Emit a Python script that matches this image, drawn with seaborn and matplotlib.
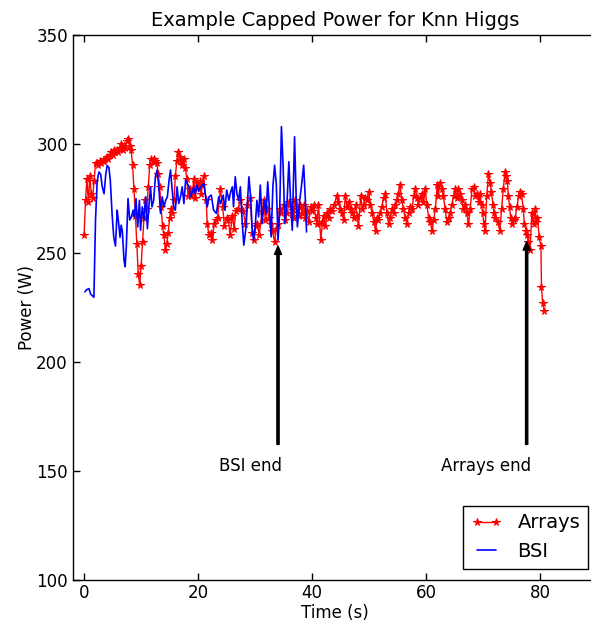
import numpy as np
import pandas as pd
import matplotlib
matplotlib.use("Agg")
import matplotlib.pyplot as plt
import seaborn as sns

# ---------------- data ----------------
arrays_t = [0.0, 0.25, 0.5, 0.75, 1.0, 1.25, 1.5, 1.75, 2.0, 2.25, 2.5, 2.75, 3.0, 3.25, 3.5, 3.75,
            4.0, 4.25, 4.5, 4.75, 5.0, 5.25, 5.5, 5.75, 6.0, 6.25, 6.5, 6.75, 7.0, 7.25, 7.5, 7.75,
            8.0, 8.25, 8.5, 8.75, 9.0, 9.25, 9.5, 9.75, 10.0, 10.25, 10.5, 10.75, 11.0, 11.25, 11.5, 11.75,
            12.0, 12.25, 12.5, 12.75, 13.0, 13.25, 13.5, 13.75, 14.0, 14.25, 14.5, 14.75, 15.0, 15.25, 15.5, 15.75,
            16.0, 16.25, 16.5, 16.75, 17.0, 17.25, 17.5, 17.75, 18.0, 18.25, 18.5, 18.75, 19.0, 19.25, 19.5, 19.75,
            20.0, 20.25, 20.5, 20.75,
            20.95, 21.4, 21.6, 21.9, 22.2, 22.5, 22.8, 23.1, 23.4, 23.9, 24.3, 24.6, 25.0, 25.3, 25.6, 26.0,
            26.3, 26.6, 27.0, 27.4, 27.9, 28.3, 28.6, 29.1, 29.5, 29.8, 30.1, 30.4, 30.7, 31.2, 31.5, 31.8,
            32.1, 32.4, 32.7, 33.0, 33.4, 33.7, 34.0, 34.3, 34.6, 35.0, 35.3, 35.6, 35.9, 36.2, 36.5, 36.8,
            37.0, 37.3, 37.6, 37.9, 38.2, 38.5, 38.8, 39.1, 39.4, 39.7, 40.0, 40.3, 40.6, 40.8, 41.1, 41.5,
            41.8, 42.0, 42.3, 42.6, 42.9, 43.2, 43.5, 43.9, 44.3, 44.6, 44.9, 45.2, 45.5, 45.8, 46.1, 46.4,
            46.8, 47.0, 47.3, 47.6, 47.9, 48.1, 48.5, 48.8, 49.0, 49.3, 49.6, 49.9, 50.2, 50.5, 50.8, 51.1,
            51.4, 51.6, 51.9, 52.2, 52.5, 52.8, 53.1, 53.4, 53.7, 54.0, 54.3, 54.6, 54.9, 55.1, 55.4, 55.7,
            56.0, 56.3, 56.6, 56.9, 57.2, 57.5, 57.8, 58.1, 58.4, 58.6, 58.9, 59.2, 59.5, 59.8, 60.1, 60.4,
            60.7, 61.0, 61.3, 61.6, 61.9, 62.1, 62.4, 62.7, 63.0, 63.3, 63.6, 63.9, 64.2, 64.5, 64.8, 65.1,
            65.3, 65.6, 65.9, 66.2, 66.5, 66.8, 67.1, 67.4, 67.7, 68.0, 68.3, 68.6, 68.9, 69.2, 69.4, 69.7,
            69.9, 70.1, 70.3, 70.6, 70.9, 71.2, 71.4, 71.7, 71.9, 72.1, 72.5, 72.9, 73.2, 73.5, 73.8, 74.0,
            74.2, 74.4, 74.6, 74.8, 75.0, 75.3, 75.6, 75.9, 76.2, 76.5, 76.7, 77.0, 77.2, 77.5, 77.7, 77.9,
            78.2, 78.5, 78.8, 79.1, 79.3, 79.5, 79.8, 80.1, 80.2, 80.4, 80.7]
arrays_w = [258, 274, 284, 273, 285, 277, 275, 283, 291, 291, 290, 292, 291, 292, 292, 293,
            294, 293, 295, 296, 295, 297, 296, 297, 296, 298, 300, 297, 299, 298, 301, 302,
            299, 297, 290, 279, 267, 254, 240, 235, 244, 255, 266, 274, 270, 280, 290, 293,
            292, 293, 292, 291, 286, 280, 271, 262, 258, 251, 254, 259, 266, 270, 268, 274,
            285, 292, 296, 294, 292, 290, 293, 289, 284, 276, 279, 276, 278, 284, 275, 282,
            280, 283, 277, 281,
            285, 274, 263, 258, 259, 256, 263, 265, 266, 279, 271, 262, 266, 265, 258, 267,
            261, 269, 270, 274, 269, 263, 272, 275, 259, 256, 262, 263, 258, 269, 274, 265,
            270, 266, 263, 260, 255, 261, 263, 270, 268, 272, 265, 268, 273, 271, 268, 266,
            274, 270, 267, 272, 268, 272, 266, 269, 264, 271, 269, 272, 266, 263, 272, 256,
            264, 267, 262, 268, 266, 270, 269, 272, 276, 273, 270, 268, 265, 276, 271, 273,
            270, 268, 266, 272, 267, 262, 276, 270, 272, 275, 274, 278, 272, 268, 264, 260,
            266, 265, 268, 271, 275, 277, 268, 263, 266, 270, 268, 272, 274, 277, 281, 274,
            270, 266, 263, 268, 271, 270, 276, 279, 275, 272, 275, 277, 273, 279, 272, 266,
            264, 260, 265, 270, 281, 276, 282, 279, 276, 270, 264, 266, 268, 272, 276, 279,
            275, 279, 277, 274, 270, 272, 268, 263, 270, 279, 280, 276, 277, 273, 277, 272,
            268, 263, 260, 276, 286, 282, 278, 272, 268, 266, 264, 260, 270, 279, 287, 285,
            283, 276, 271, 266, 263, 265, 266, 271, 276, 278, 277, 270, 263, 260, 258, 255,
            251, 268, 263, 270, 264, 266, 257, 253, 234, 227, 223]

bsi_t = [0.15, 0.44, 0.85, 1.14, 1.72, 2.0, 2.3, 2.6, 2.9, 3.2, 3.5, 3.8, 4.06, 4.35, 4.6, 4.9,
         5.2, 5.5, 5.8, 6.0, 6.3, 6.5, 6.7, 7.0, 7.2, 7.4, 7.7, 8.0, 8.3, 8.6, 8.8, 9.1,
         9.4, 9.7, 9.9, 10.2, 10.5, 10.8, 11.1, 11.4, 11.65, 11.9, 12.2, 12.5, 12.8, 13.1, 13.4, 13.7,
         14.0, 14.3, 14.6, 14.9, 15.15, 15.4, 15.7, 16.0, 16.3, 16.6, 16.9, 17.2, 17.5, 17.8, 18.1, 18.4,
         18.65, 19.0, 19.2, 19.5, 19.8, 20.1, 20.4, 21.0, 21.3, 21.6, 21.9, 22.3, 22.7, 23.2, 23.6, 23.9,
         24.4, 24.7, 25.0, 25.4, 25.7, 26.0, 26.2, 26.5, 26.8, 27.1, 27.4, 27.7, 28.0, 28.4, 28.9, 29.2,
         29.45, 29.7, 30.0, 30.3, 30.6, 30.9, 31.2, 31.6, 31.9, 32.2, 32.5, 32.8, 33.1, 33.4, 33.7, 34.0,
         34.3, 34.6, 34.9, 35.2, 35.6, 35.9, 36.2, 36.5, 36.9, 37.2, 37.4, 37.8, 38.1, 38.5, 38.8, 39.0]
bsi_w = [232, 233, 233.5, 231, 229.5, 265, 283, 287, 286, 280, 277, 286, 290, 289, 283, 268,
         257, 253, 269.5, 265, 257, 262.6, 260, 246.5, 243.5, 252.6, 274.8, 265, 266.4, 269.5, 266.4, 274.8,
         261.8, 274, 260.3, 271, 265, 275.6, 261, 272.5, 280, 271, 274, 284.8, 287.9, 280.2, 268, 275.6,
         271, 274, 275.6, 283.3, 287.9, 280.2, 271, 269.5, 280.2, 272.5, 275.6, 280.2, 272.5, 283.3, 281.7, 280.2,
         275.6, 278, 280, 277, 281, 278, 280, 281.7, 275.6, 271, 275.6, 276.4, 269.5, 268, 275.6, 272.5,
         276.4, 269.5, 278.7, 274, 277.9, 280.2, 271, 284.8, 277.1, 274, 280.2, 264.9, 253.4, 261.8, 284.8, 275.6,
         261.8, 255.7, 261.8, 274, 266.4, 281, 263.3, 274, 268, 282.5, 269.5, 257.2, 280.2, 290.1, 281.7, 255.7,
         269.5, 307.8, 289.4, 263.3, 274, 291.7, 274, 260.3, 303.2, 274, 261.8, 274, 280.2, 290.1, 274, 259.5]

x_ticks = [0, 20, 40, 60, 80]
y_ticks = [100, 150, 200, 250, 300, 350]
annotations = [("BSI end", 34.0, 253, 23.6), ("Arrays end", 77.6, 255, 62.5)]

# ---------------- style ----------------
sns.set_style("ticks")
plt.rcParams.update({
    "font.family": ["DejaVu Sans"],
    "xtick.direction": "in", "ytick.direction": "in",
    "xtick.top": True, "ytick.right": False,
    "xtick.major.size": 5, "ytick.major.size": 5,
    "axes.linewidth": 1.0,
    "axes.edgecolor": "black",
    "xtick.color": "black", "ytick.color": "black",
    "text.color": "black", "axes.labelcolor": "black",
})

fig = plt.figure(figsize=(5.91, 6.24), dpi=100)
ax = fig.add_axes([0.1230, 0.0713, 0.8878, 0.8731])

df_a = pd.DataFrame({"t": arrays_t, "w": arrays_w})
df_b = pd.DataFrame({"t": bsi_t, "w": bsi_w})

sns.lineplot(data=df_a, x="t", y="w", sort=False, estimator=None, ax=ax,
             color="red", linewidth=1.0, marker="*", markersize=5.5,
             markeredgecolor="red", markerfacecolor="red", label="Arrays")
sns.lineplot(data=df_b, x="t", y="w", sort=False, estimator=None, ax=ax,
             color="blue", linewidth=1.2, label="BSI")

ax.set_xlim(-2, 90)
ax.set_ylim(100, 350)
ax.set_xticks(x_ticks)
ax.set_yticks(y_ticks)
ax.tick_params(labelsize=12, width=1, length=5, colors="black")
ax.tick_params(axis="y", right=False)
ax.spines["right"].set_visible(False)
ax.set_xlabel("Time (s)", fontsize=12, labelpad=1)
ax.set_ylabel("Power (W)", fontsize=12, labelpad=0)
ax.set_title("Example Capped Power for Knn Higgs", fontsize=14, pad=6)

for label, xa, ya, xt in annotations:
    ax.annotate("", xy=(xa, ya), xytext=(xa, 162),
                arrowprops=dict(facecolor="black", edgecolor="black",
                                width=1.6, headwidth=5, headlength=6, shrink=0))
    ax.text(xt, 150, label, fontsize=12, ha="left", va="baseline")

leg = ax.legend(loc="lower right", bbox_to_anchor=(588 / 591, (624 - 569) / 624),
                bbox_transform=fig.transFigure, borderaxespad=0, numpoints=2,
                fancybox=False, edgecolor="black", framealpha=1, fontsize=14,
                handlelength=1.6)
leg.get_frame().set_linewidth(1.0)

fig.savefig("out.png", dpi=100)
